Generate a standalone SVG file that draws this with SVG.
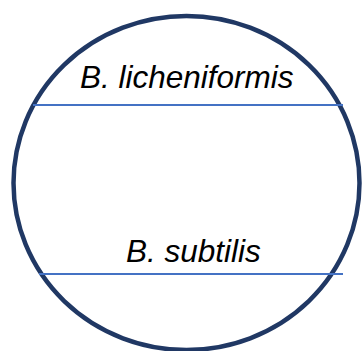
<svg xmlns="http://www.w3.org/2000/svg" width="362" height="351" viewBox="0 0 362 351">
<style>
.lbl{font-family:"Liberation Sans",Arial,sans-serif;font-style:italic;font-size:31.5px;fill:#000}
.band{stroke:#4472c4;stroke-width:2;fill:none}
</style>
<rect width="362" height="351" fill="#fff"/>
<g id="dish">
<ellipse cx="186.5" cy="183" rx="173" ry="167" fill="none" stroke="#203864" stroke-width="4.5"/>
</g>
<g id="connectors">
<line class="band" x1="33" y1="105" x2="343" y2="105"/>
<line class="band" x1="39" y1="274" x2="343" y2="274"/>
</g>
<g id="label-licheniformis">
<text class="lbl" x="80" y="88">B. licheniformis</text>
</g>
<g id="label-subtilis">
<text class="lbl" x="126" y="262">B. subtilis</text>
</g>
</svg>
